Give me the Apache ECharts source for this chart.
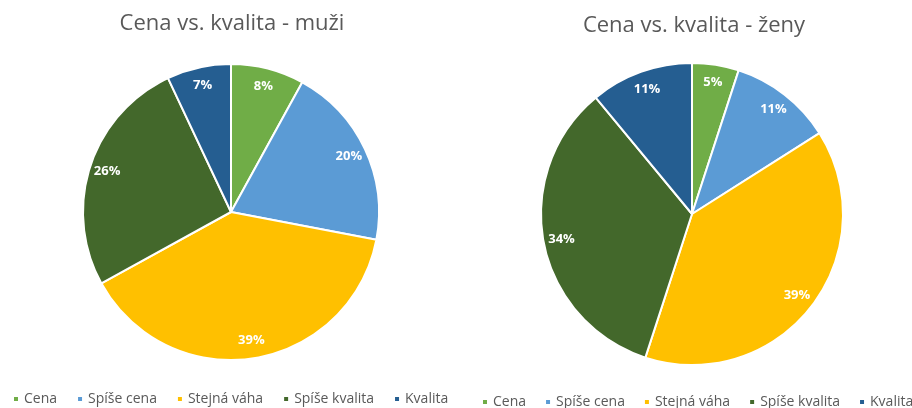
<!DOCTYPE html>
<html>
<head>
<meta charset="utf-8">
<script src="https://cdn.jsdelivr.net/npm/echarts@6/dist/echarts.min.js"></script>
<style>
  html, body { margin: 0; padding: 0; background: #fff; }
  #chart { width: 912px; height: 408px; }
</style>
</head>
<body>
<div id="chart"></div>
<script>
const categories = ['Cena', 'Spíše cena', 'Stejná váha', 'Spíše kvalita', 'Kvalita']
const menValues = [8, 20, 39, 26, 7]
const womenValues = [5, 11, 39, 34, 11]
const colors = ['#70ad47', '#5b9bd5', '#ffc000', '#43682b', '#255e91']

const font = 'Open Sans'

const toData = (values) => categories.map((name, i) => ({ name, value: values[i] }))

// full pie, no labels
const pieSeries = (values, center, r) => ({
  type: 'pie',
  center,
  radius: r,
  startAngle: 90,
  data: toData(values),
  label: { show: false },
  labelLine: { show: false },
  itemStyle: { borderColor: '#fff', borderWidth: 2 },
  emphasis: { disabled: true },
  silent: true
})

// transparent ring on top, only to place the labels near the rim
const labelRing = (values, center, r) => ({
  type: 'pie',
  center,
  radius: [r * 0.72, r],
  startAngle: 90,
  data: toData(values),
  itemStyle: { color: 'transparent', borderWidth: 0 },
  label: {
    show: true,
    position: 'inside',
    formatter: '{c}%',
    color: '#fff',
    fontWeight: 'bold',
    fontSize: 13,
    fontFamily: font
  },
  labelLine: { show: false },
  emphasis: { disabled: true },
  silent: true
})

const legendBase = {
  data: categories,
  icon: 'rect',
  itemWidth: 6,
  itemHeight: 6,
  width: 600,
  textStyle: { color: '#595959', fontSize: 14, fontFamily: font },
  selectedMode: false
}

const chart = echarts.init(document.getElementById('chart'))
chart.setOption({
  color: colors,
  animation: false,
  title: [
    {
      text: 'Cena vs. kvalita - muži',
      left: 227, top: 8, textAlign: 'center',
      textStyle: { color: '#595959', fontSize: 22, fontWeight: 'normal', fontFamily: font }
    },
    {
      text: 'Cena vs. kvalita - ženy',
      left: 689, top: 10, textAlign: 'center',
      textStyle: { color: '#595959', fontSize: 22, fontWeight: 'normal', fontFamily: font }
    }
  ],
  legend: [
    Object.assign({}, legendBase, { left: 7, top: 387, itemGap: 19 }),
    Object.assign({}, legendBase, { left: 476, top: 390, itemGap: 18 })
  ],
  series: [
    pieSeries(menValues, [231, 212], 148),
    labelRing(menValues, [231, 212], 148),
    pieSeries(womenValues, [692, 214], 151),
    labelRing(womenValues, [692, 214], 151)
  ]
})
</script>
</body>
</html>
